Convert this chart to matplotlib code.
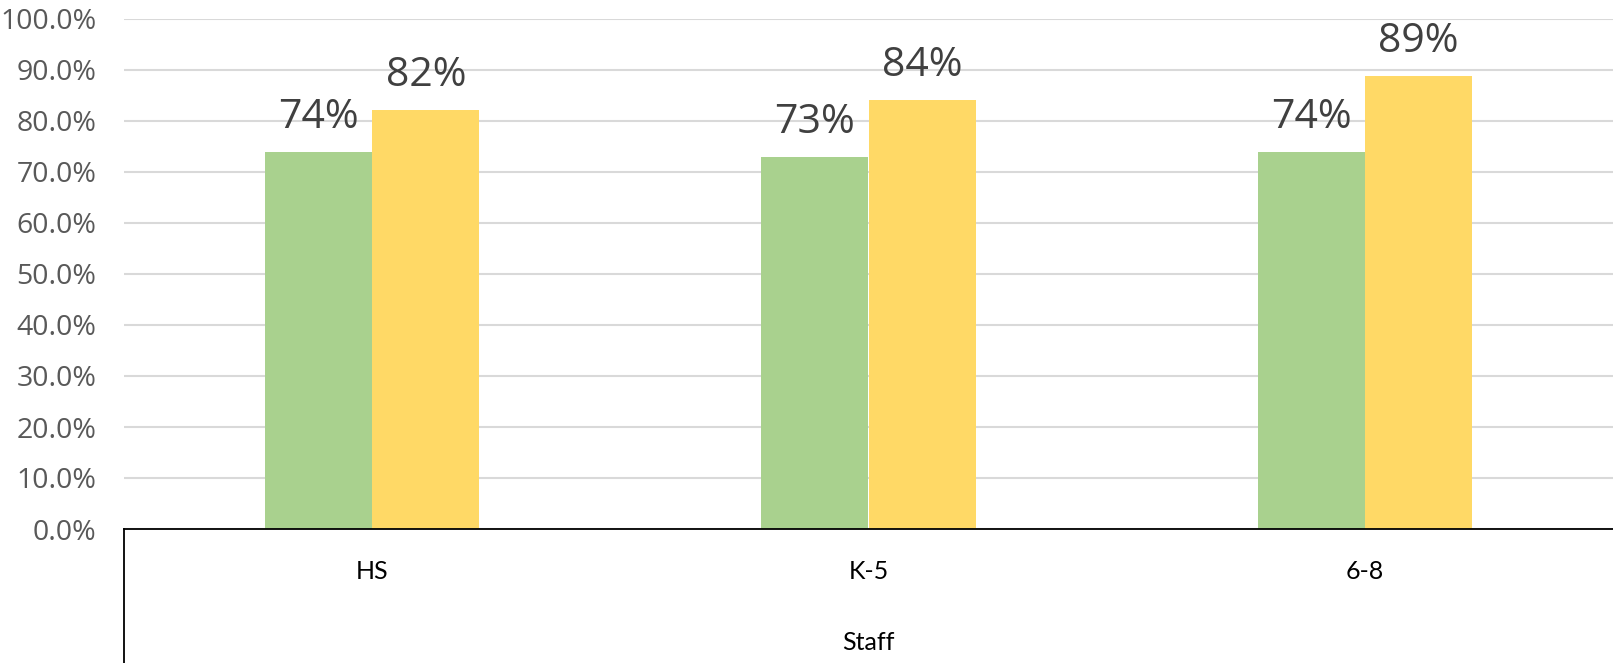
import numpy as np
import matplotlib
matplotlib.use("Agg")
import matplotlib.pyplot as plt
from matplotlib.lines import Line2D
from matplotlib.ticker import FuncFormatter

categories = ["HS", "K-5", "6-8"]
group_label = "Staff"
series_a = [0.739, 0.729, 0.740]   # green bars
series_b = [0.821, 0.842, 0.888]   # yellow bars
colors = ["#A9D18E", "#FFD966"]

fig = plt.figure(figsize=(16.13, 6.63), dpi=100)
ax = fig.add_axes([124 / 1613, 134 / 663, 1 - 124 / 1613, 510 / 663])

x = np.arange(len(categories))
w = 0.216
bars_a = ax.bar(x - w / 2, series_a, w, color=colors[0], zorder=2)
bars_b = ax.bar(x + w / 2, series_b, w, color=colors[1], zorder=2)

for bars, vals in ((bars_a, series_a), (bars_b, series_b)):
    for b, v in zip(bars, vals):
        ax.annotate("{:.0%}".format(v), (b.get_x() + b.get_width() / 2, v),
                    xytext=(0, 10), textcoords="offset points",
                    ha="center", va="bottom", fontsize=29.5,
                    family="Open Sans", color="#404040")

ax.set_xlim(-0.5, len(categories) - 0.5)
ax.set_ylim(0, 1.0)
ax.set_yticks(np.arange(0, 1.01, 0.1))
ax.yaxis.set_major_formatter(FuncFormatter(lambda v, p: "{:.1f}%".format(v * 100)))
ax.tick_params(axis="y", length=0, pad=20, labelsize=20.5, labelcolor="#595959")
for lab in ax.get_yticklabels():
    lab.set_family("Open Sans")
ax.grid(axis="y", color="#D9D9D9", linewidth=1.5, zorder=0)
ax.set_axisbelow(True)

ax.set_xticks(x)
ax.set_xticklabels(categories, family="Lato", fontsize=18, color="black")
ax.tick_params(axis="x", length=0, pad=22)

for s in ("top", "right", "left"):
    ax.spines[s].set_visible(False)
ax.spines["bottom"].set_color("black")
ax.spines["bottom"].set_linewidth(1.3)
ax.spines["bottom"].set_zorder(3)

# left edge of the two-level category axis
fig.add_artist(Line2D([124 / 1613, 124 / 1613], [0, 134 / 663],
                      transform=fig.transFigure, color="black", linewidth=1.3))
fig.text(0.5 * (1 + 124 / 1613), 21 / 663, group_label, ha="center", va="center",
         family="Lato", fontsize=18, color="black")

fig.savefig("out.png", dpi=100)
